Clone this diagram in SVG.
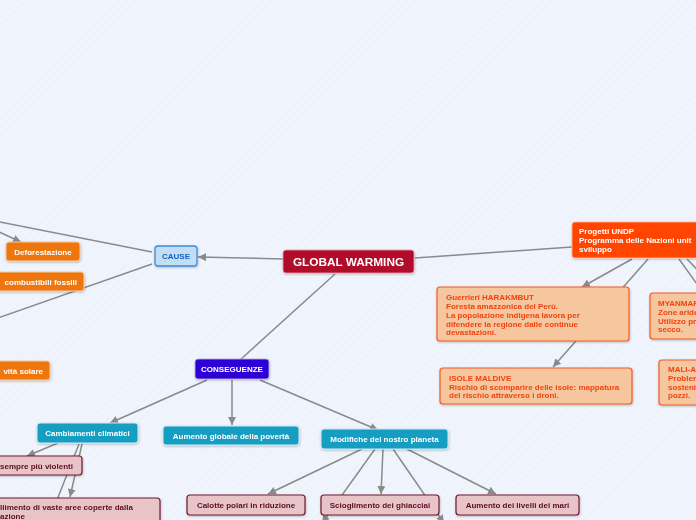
<svg xmlns="http://www.w3.org/2000/svg" width="696" height="520" viewBox="0 0 696 520">
<defs>
<pattern id="bg" width="6" height="6" patternUnits="userSpaceOnUse" patternTransform="rotate(45)">
<rect width="6" height="6" fill="#f0f4fc"/>
<line x1="0" y1="0" x2="0" y2="6" stroke="#e6ecf8" stroke-width="1"/>
</pattern>
<marker id="ah" viewBox="0 0 10 10" refX="10" refY="5" markerWidth="8" markerHeight="8" markerUnits="userSpaceOnUse" orient="auto">
<path d="M0,0 L10,5 L0,10 z" fill="#8a8a8a"/>
</marker>
<filter id="sh" x="-10%" y="-20%" width="120%" height="150%">
<feDropShadow dx="0.5" dy="1" stdDeviation="0.8" flood-color="#000" flood-opacity="0.25"/>
</filter>
</defs>
<style>
text{font-family:"Liberation Sans",Arial,sans-serif;font-weight:bold;font-size:8px}
.c line{stroke:#8a8a8a;stroke-width:1.5;fill:none}
.a{marker-end:url(#ah)}
.box{filter:url(#sh)}
.or rect{fill:#ee7711;stroke:#f7c9a0;stroke-width:1}
.or text{fill:#fff}
.tl rect{fill:#159ec2;stroke:#cfeaf2;stroke-width:1}
.tl text{fill:#fff}
.pk rect{fill:#e8c4c8;stroke:#6e1a2c;stroke-width:1.2}
.pk text{fill:#5a0f1f}
.pc rect{fill:#f6c79e;stroke:#f45a26;stroke-width:1.2}
.pc text{fill:#f0430f}
</style>
<rect width="696" height="520" fill="url(#bg)"/>

<g id="connectors" class="c">
<line x1="283" y1="259" x2="198" y2="257" class="a"/>
<line x1="152" y1="252" x2="-5" y2="221"/>
<line x1="-5" y1="230" x2="21" y2="242" class="a"/>
<line x1="152" y1="264" x2="-5" y2="319"/>
<line x1="335" y1="274" x2="240" y2="360"/>
<line x1="207" y1="380" x2="110" y2="423" class="a"/>
<line x1="232" y1="380" x2="232" y2="425" class="a"/>
<line x1="260" y1="380" x2="378" y2="430" class="a"/>
<line x1="58" y1="443" x2="27" y2="456" class="a"/>
<line x1="82" y1="444" x2="70" y2="497" class="a"/>
<line x1="79" y1="444" x2="57" y2="500"/>
<line x1="362" y1="449" x2="268" y2="494" class="a"/>
<line x1="375" y1="449" x2="322" y2="523" class="a"/>
<line x1="383" y1="449" x2="381" y2="494" class="a"/>
<line x1="393" y1="449" x2="444" y2="523" class="a"/>
<line x1="407" y1="449" x2="496" y2="494" class="a"/>
<line x1="415" y1="258" x2="572" y2="247"/>
<line x1="632" y1="259" x2="582" y2="287" class="a"/>
<line x1="648" y1="259" x2="553" y2="367" class="a"/>
<line x1="679" y1="259" x2="712" y2="305"/>
<line x1="687" y1="259" x2="710" y2="283"/>
</g>

<g id="global-warming" class="box">
<rect x="283" y="250" width="131" height="23" rx="3" fill="#b10d2b" stroke="#e7a0ac" stroke-width="0.8"/>
<text x="348.5" y="265.8" text-anchor="middle" fill="#fff" style="font-size:11.8px">GLOBAL WARMING</text>
</g>

<g id="cause" class="box">
<rect x="155" y="246" width="42" height="20" rx="3" fill="#c3ddf3" stroke="#3d8be0" stroke-width="1.3"/>
<text x="176" y="259" text-anchor="middle" fill="#1560c0">CAUSE</text>
</g>

<g id="deforestazione" class="box or">
<rect x="6" y="242" width="74" height="19" rx="3"/>
<text x="43" y="254.5" text-anchor="middle">Deforestazione</text>
</g>

<g id="combustibili" class="box or">
<rect x="-10" y="272" width="94" height="19" rx="3"/>
<text x="77" y="284.5" text-anchor="end">combustibili fossili</text>
</g>

<g id="solare" class="box or">
<rect x="-10" y="361" width="60" height="19" rx="3"/>
<text x="43" y="373.5" text-anchor="end">vità solare</text>
</g>

<g id="conseguenze" class="box">
<rect x="195" y="359" width="74" height="20" rx="3" fill="#2f06d6" stroke="#b8b0f0" stroke-width="0.8"/>
<text x="232" y="372" text-anchor="middle" fill="#fff">CONSEGUENZE</text>
</g>

<g id="cambiamenti" class="box tl">
<rect x="37" y="423" width="101" height="20" rx="3"/>
<text x="87.5" y="436" text-anchor="middle">Cambiamenti climatici</text>
</g>

<g id="poverta" class="box tl">
<rect x="163" y="426" width="136" height="19" rx="3"/>
<text x="231" y="438.5" text-anchor="middle">Aumento globale della povertà</text>
</g>

<g id="modifiche" class="box tl">
<rect x="321" y="429" width="127" height="20" rx="3"/>
<text x="384.5" y="442" text-anchor="middle">Modifiche del nostro planeta</text>
</g>

<g id="violenti" class="box pk">
<rect x="-10" y="456" width="92" height="19" rx="3"/>
<text x="0" y="468.5">sempre più violenti</text>
</g>

<g id="vaste-aree" class="box pk">
<rect x="-10" y="498" width="170" height="30" rx="3"/>
<text x="0" y="510">llimento di vaste aree coperte dalla</text>
<text x="0" y="519">azione</text>
</g>

<g id="calotte" class="box pk">
<rect x="187" y="495" width="118" height="20" rx="3"/>
<text x="246" y="508" text-anchor="middle">Calotte polari in riduzione</text>
</g>

<g id="scioglimento" class="box pk">
<rect x="321" y="495" width="118" height="20" rx="3"/>
<text x="380" y="508" text-anchor="middle">Scioglimento dei ghiacciai</text>
</g>

<g id="mari" class="box pk">
<rect x="456" y="495" width="123" height="20" rx="3"/>
<text x="517.5" y="508" text-anchor="middle">Aumento dei livelli dei mari</text>
</g>

<g id="undp" class="box">
<rect x="572" y="222" width="140" height="36" rx="3" fill="#ff4400" stroke="#ffc0a0" stroke-width="0.8"/>
<text x="579" y="234" fill="#fff">Progetti UNDP</text>
<text x="579" y="243" fill="#fff">Programma delle Nazioni unit</text>
<text x="579" y="252" fill="#fff">sviluppo</text>
</g>

<g id="harakmbut" class="box pc">
<rect x="437" y="287" width="192" height="54" rx="3"/>
<text x="446" y="300">Guerrieri HARAKMBUT</text>
<text x="446" y="309">Foresta amazzonica del Perù.</text>
<text x="446" y="318">La popolazione indigena lavora per</text>
<text x="446" y="326.5">difendere la regione dalle continue</text>
<text x="446" y="335">devastazioni.</text>
</g>

<g id="maldive" class="box pc">
<rect x="440" y="368" width="192" height="36" rx="3"/>
<text x="449" y="381">ISOLE MALDIVE</text>
<text x="449" y="389.5">Rischio di scomparire delle isole: mappatura</text>
<text x="449" y="398">del rischio attraverso i droni.</text>
</g>

<g id="myanmar" class="box pc">
<rect x="650" y="293" width="60" height="46" rx="3"/>
<text x="658" y="306">MYANMAR</text>
<text x="658" y="315">Zone aride</text>
<text x="658" y="323.5">Utilizzo pr</text>
<text x="658" y="332">secco.</text>
</g>

<g id="mali" class="box pc">
<rect x="659" y="360" width="50" height="45" rx="3"/>
<text x="668" y="372">MALI-A</text>
<text x="668" y="381">Problem</text>
<text x="668" y="389.5">sosteni</text>
<text x="668" y="398">pozzi.</text>
</g>
</svg>
